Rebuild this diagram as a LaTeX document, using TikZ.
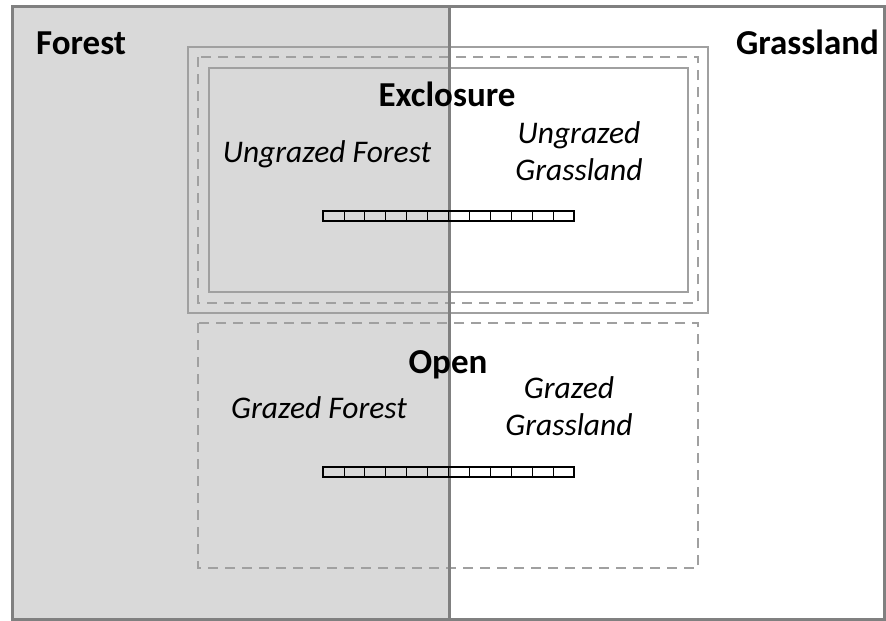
\documentclass[tikz,border=0pt]{standalone}
\usepackage{fontspec}
\setmainfont{Carlito}
\definecolor{forestgray}{HTML}{D9D9D9}
\definecolor{framegray}{HTML}{808080}
\definecolor{boxgray}{HTML}{A0A0A0}

\begin{document}
\begin{tikzpicture}[x=1pt, y=-1pt,
    region/.style={font=\fontsize{35}{40}\selectfont\bfseries, inner sep=0},
    plot/.style={font=\fontsize{35}{40}\selectfont\bfseries, inner sep=0, anchor=base},
    treatment/.style={font=\fontsize{31.5}{37}\selectfont\itshape, align=center, inner sep=0, anchor=base},
    fence/.style={draw=boxgray, line width=2pt},
    fencedash/.style={draw=boxgray, line width=2pt, dash pattern=on 10pt off 7pt}]

    \useasboundingbox[fill=white] (0,0) rectangle (886,621);

    % Habitats
    \fill[forestgray] (12,6) rectangle (449,619);
    \draw[framegray, line width=3pt] (12,6) rectangle (884,619);

    % Exclosure fences
    \draw[fence] (188,47) rectangle (708,313);
    \draw[fencedash] (198,57) rectangle (698,303);
    \draw[fence] (209,68) rectangle (688,292);

    % Open plot
    \draw[fencedash] (198,323) rectangle (698,568);

    % Habitat boundary
    \draw[framegray, line width=3pt] (449,6) -- (449,619);

    % Transects
    \foreach \y in {211, 467} {
        \foreach \i in {0,...,11} {
            \draw[line width=0.8pt] (323+\i*20.92,\y) rectangle ++(20.92,10);
        }
        \draw[line width=2pt] (323,\y) rectangle (574,\y+10);
    }

    % Labels
    \node[region, anchor=base west] (forest) at (36,54) {Forest};
    \node[region, anchor=base east] (grassland) at (879,54) {Grassland};
    \node[plot] (exclosure) at (447,106) {Exclosure};
    \node[plot] (open) at (448,373) {Open};
    \node[treatment] (ungrazedforest) at (327,162) {Ungrazed Forest};
    \node[treatment] (ungrazedgrass) at (579,180) {Ungrazed\\Grassland};
    \node[treatment] (grazedforest) at (319,418) {Grazed Forest};
    \node[treatment] (grazedgrass) at (569,435) {Grazed\\Grassland};

\end{tikzpicture}
\end{document}
